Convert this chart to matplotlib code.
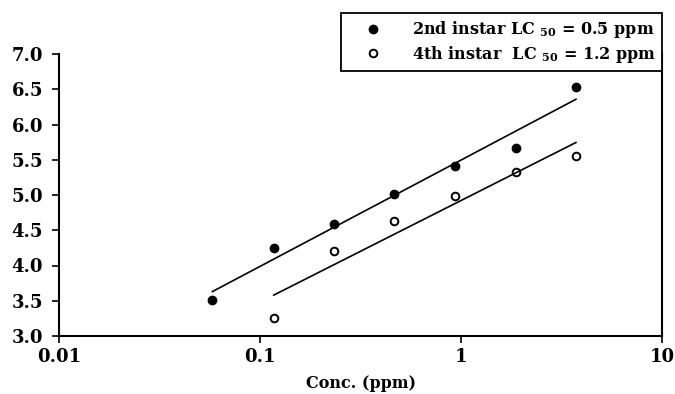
import matplotlib
matplotlib.use("Agg")
import matplotlib.pyplot as plt
import numpy as np

plt.rcParams['font.family'] = ['DejaVu Serif']
plt.rcParams['font.weight'] = 'bold'
plt.rcParams['mathtext.fontset'] = 'custom'
plt.rcParams['mathtext.rm'] = 'DejaVu Serif:bold'
plt.rcParams['mathtext.bf'] = 'DejaVu Serif:bold'
plt.rcParams['mathtext.it'] = 'DejaVu Serif:bold:italic'

# concentrations (ppm) and probit values
conc_2nd = [0.058, 0.117, 0.233, 0.466, 0.933, 1.87, 3.73]
probit_2nd = [3.51, 4.25, 4.59, 5.01, 5.41, 5.67, 6.53]
conc_4th = [0.117, 0.233, 0.466, 0.933, 1.87, 3.73]
probit_4th = [3.26, 4.21, 4.63, 4.99, 5.33, 5.55]

label_2nd = '2nd instar LC $_{50}$ = 0.5 ppm'
label_4th = '4th instar  LC $_{50}$ = 1.2 ppm'

xticks = [0.01, 0.1, 1, 10]
xtick_labels = ['0.01', '0.1', '1', '10']
yticks = [3.0, 3.5, 4.0, 4.5, 5.0, 5.5, 6.0, 6.5, 7.0]


def fit_line(x, y):
    # probit regression line on log10 concentration
    lx = np.log10(x)
    slope, icpt = np.polyfit(lx, y, 1)
    xs = np.array([min(x), max(x)])
    return xs, slope * np.log10(xs) + icpt


fig = plt.figure(figsize=(6.75, 3.94), dpi=100)
ax = fig.add_axes([59 / 675, 58 / 394, 603 / 675, 282 / 394])

ax.plot(conc_2nd, probit_2nd, 'o', color='black', markersize=6, label=label_2nd)
ax.plot(conc_4th, probit_4th, 'o', markerfacecolor='white', markeredgecolor='black',
        markeredgewidth=1.4, markersize=5.5, label=label_4th)

lx, ly = fit_line(conc_2nd, probit_2nd)
ax.plot(lx, ly, color='black', lw=1.2)
lx, ly = fit_line(conc_4th, probit_4th)
ax.plot(lx, ly, color='black', lw=1.2)

ax.set_xscale('log')
ax.set_xlim(0.01, 10)
ax.set_ylim(3.0, 7.0)
ax.set_xticks(xticks)
ax.set_xticklabels(xtick_labels)
ax.xaxis.set_minor_locator(matplotlib.ticker.NullLocator())
ax.set_yticks(yticks)
ax.set_yticklabels(['%.1f' % v for v in yticks])
ax.tick_params(axis='both', direction='out', length=5, width=1.2, labelsize=13)
ax.tick_params(axis='y', pad=6.5)
ax.tick_params(axis='x', pad=4)

ax.spines['top'].set_visible(False)
for s in ['left', 'bottom', 'right']:
    ax.spines[s].set_linewidth(1.5)

ax.set_xlabel('Conc. (ppm)', fontsize=11.5, fontweight='bold', labelpad=6)

leg = ax.legend(loc='upper right', bbox_to_anchor=(1.0, 1.145), fontsize=11.5,
                frameon=True, fancybox=False, edgecolor='black', framealpha=1,
                borderpad=0.4, handletextpad=0.8, labelspacing=0.2,
                handlelength=3.2, borderaxespad=0)
leg.get_frame().set_linewidth(1.3)

fig.savefig('out.png', dpi=100)
